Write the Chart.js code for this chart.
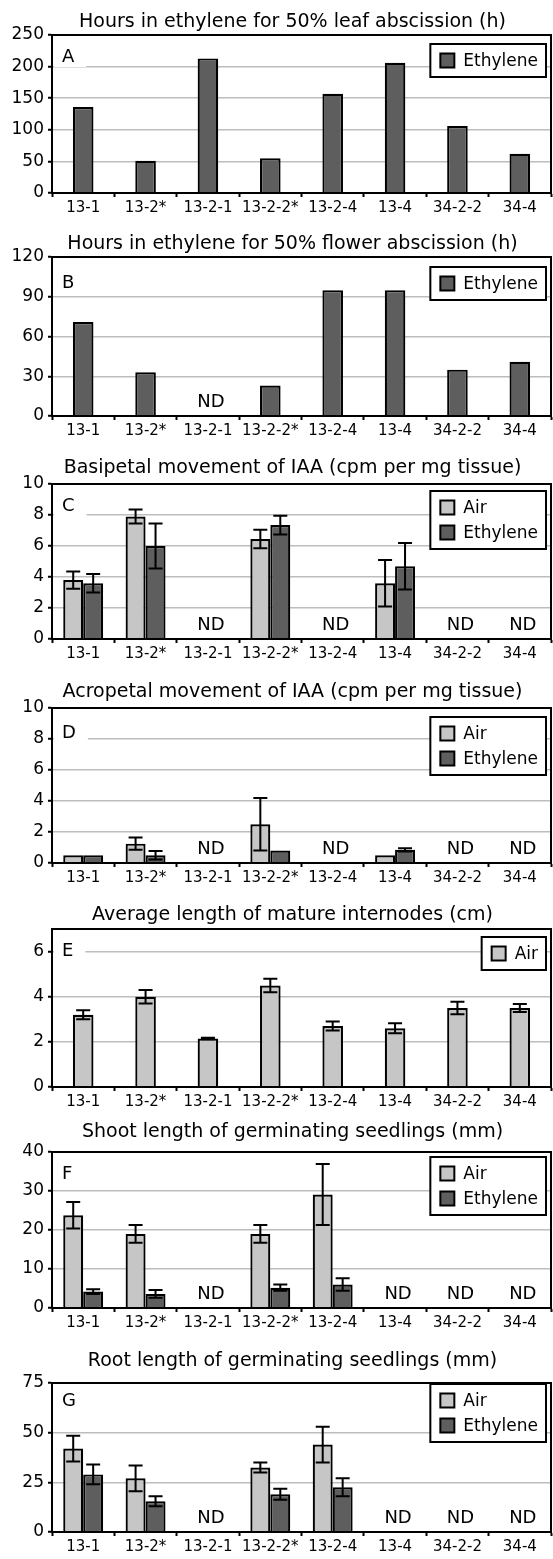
<!DOCTYPE html>
<html><head><meta charset="utf-8">
<script src="https://cdn.jsdelivr.net/npm/chart.js@4/dist/chart.umd.min.js"></script>
<style>
html,body{margin:0;padding:0;background:#fff;}
body{width:553px;height:1559px;position:relative;overflow:hidden;}
.panel{position:absolute;left:0;width:553px;}
</style></head><body>
<script>
// ---------- data ----------
const categories = ['13-1','13-2*','13-2-1','13-2-2*','13-2-4','13-4','34-2-2','34-4'];
const titles = [
  'Hours in ethylene for 50% leaf abscission (h)',
  'Hours in ethylene for 50% flower abscission (h)',
  'Basipetal movement of IAA (cpm per mg tissue)',
  'Acropetal movement of IAA (cpm per mg tissue)',
  'Average length of mature internodes (cm)',
  'Shoot length of germinating seedlings (mm)',
  'Root length of germinating seedlings (mm)'
];
const panelLetters = ['A','B','C','D','E','F','G'];
const seriesNames = ['Air','Ethylene'];
const ndLabel = 'ND';
const yMaxes = [250,120,10,10,7,40,75];
const ySteps = [50,30,2,2,2,10,25];

const leafEthylene   = [136,51,213,55,157,206,106,62];
const flowerEthylene = [71,33,null,23,95,95,35,41];

const basiAir    = [3.8,7.9,null,6.45,null,3.6,null,null];
const basiAirErr = [0.55,0.45,null,0.6,null,1.5,null,null];
const basiEth    = [3.6,6.0,null,7.35,null,4.7,null,null];
const basiEthErr = [0.6,1.45,null,0.6,null,1.5,null,null];

const acroAir    = [0.5,1.25,null,2.5,null,0.5,null,null];
const acroAirErr = [0,0.4,null,1.7,null,0,null,null];
const acroEth    = [0.5,0.5,null,0.8,null,0.85,null,null];
const acroEthErr = [0,0.28,null,0,null,0.1,null,null];

const interAir    = [3.2,4.0,2.15,4.5,2.7,2.6,3.5,3.5];
const interAirErr = [0.2,0.3,0.03,0.3,0.2,0.22,0.28,0.18];

const shootAir    = [23.8,19.0,null,19.0,29.1,null,null,null];
const shootAirErr = [3.4,2.3,null,2.3,7.8,null,null,null];
const shootEth    = [4.2,3.6,null,5.2,6.0,null,null,null];
const shootEthErr = [0.6,1.0,null,0.8,1.6,null,null,null];

const rootAir    = [42,27,null,32.5,44,null,null,null];
const rootAirErr = [6.5,6.5,null,2.5,9,null,null,null];
const rootEth    = [29,15.5,null,19,22.5,null,null,null];
const rootEthErr = [5,2.5,null,2.8,4.5,null,null,null];

// ---------- layout / style ----------
const FONT = '"DejaVu Sans", sans-serif';
const AIR = '#c6c6c6', ETH = '#5e5e5e';
const layout = [
  {plotTop:35,   plotBottom:193,  titleY:22,   letterDy:22, legendDy:9},
  {plotTop:257,  plotBottom:416,  titleY:244,  letterDy:26, legendDy:10},
  {plotTop:484,  plotBottom:639,  titleY:468,  letterDy:22, legendDy:7},
  {plotTop:708,  plotBottom:863,  titleY:692,  letterDy:25, legendDy:9},
  {plotTop:929,  plotBottom:1087, titleY:915,  letterDy:22, legendDy:8},
  {plotTop:1152, plotBottom:1308, titleY:1132, letterDy:22, legendDy:5},
  {plotTop:1383, plotBottom:1532, titleY:1361, letterDy:18, legendDy:1}
];
const TOPPAD = 40, XH = 27;

Chart.defaults.font.family = FONT;

const decoPlugin = {
  id: 'deco',
  afterDatasetsDraw(chart) {
    const ctx = chart.ctx, y = chart.scales.y;
    ctx.save();
    ctx.strokeStyle = '#000'; ctx.lineWidth = 2;
    chart.data.datasets.forEach((ds, di) => {
      const errs = ds.errors; if (!errs) return;
      const meta = chart.getDatasetMeta(di);
      meta.data.forEach((bar, i) => {
        const v = ds.data[i], e = errs[i];
        if (v == null || !e) return;
        const x = bar.x, yt = y.getPixelForValue(v + e), yb = y.getPixelForValue(Math.max(v - e, 0));
        ctx.beginPath();
        ctx.moveTo(x, yt); ctx.lineTo(x, yb);
        ctx.moveTo(x - 7, yt); ctx.lineTo(x + 7, yt);
        ctx.moveTo(x - 7, yb); ctx.lineTo(x + 7, yb);
        ctx.stroke();
      });
    });
    ctx.restore();
  },
  afterDraw(chart, args, o) {
    const ctx = chart.ctx, ca = chart.chartArea, xs = chart.scales.x;
    ctx.save();
    // frame
    ctx.strokeStyle = '#000'; ctx.lineWidth = 2;
    ctx.strokeRect(ca.left, ca.top, ca.right - ca.left, ca.bottom - ca.top);
    // title
    ctx.fillStyle = '#000';
    ctx.font = '19px ' + FONT; ctx.textAlign = 'center'; ctx.textBaseline = 'middle';
    ctx.fillText(o.title, (ca.left + ca.right) / 2 - 9, o.titleY);
    // panel letter
    ctx.font = '18px ' + FONT; ctx.textAlign = 'left';
    const lw = ctx.measureText(o.letter).width;
    ctx.fillStyle = '#fff'; ctx.fillRect(ca.left + 2, ca.top + o.letterDy - 10, lw + 20, 20);
    ctx.fillStyle = '#000'; ctx.fillText(o.letter, ca.left + 10, ca.top + o.letterDy);
    // ND markers
    ctx.font = '18px ' + FONT; ctx.textAlign = 'center'; ctx.textBaseline = 'alphabetic';
    chart.data.labels.forEach((lab, i) => {
      if (chart.data.datasets.every(ds => ds.data[i] == null))
        ctx.fillText(ndLabel, xs.getPixelForValue(i) + 3, ca.bottom - 9);
    });
    // legend
    const items = chart.data.datasets.map(ds => ({label: ds.label, color: ds.backgroundColor}));
    ctx.font = '17px ' + FONT;
    const tw = Math.max(...items.map(it => ctx.measureText(it.label).width));
    const bw = 10 + 14 + 9 + tw + 8, bh = 8 + items.length * 25;
    const bx = ca.right - 5 - bw, by = ca.top + o.legendDy;
    ctx.fillStyle = '#fff'; ctx.fillRect(bx, by, bw, bh);
    ctx.strokeStyle = '#000'; ctx.lineWidth = 2; ctx.strokeRect(bx, by, bw, bh);
    items.forEach((it, r) => {
      const cy = by + 4 + 12.5 + r * 25;
      ctx.fillStyle = it.color; ctx.fillRect(bx + 10, cy - 7, 14, 14);
      ctx.lineWidth = 2; ctx.strokeRect(bx + 10, cy - 7, 14, 14);
      ctx.fillStyle = '#000'; ctx.textAlign = 'left'; ctx.textBaseline = 'middle';
      ctx.fillText(it.label, bx + 33, cy + 1);
    });
    ctx.restore();
  }
};

function ds(label, data, errors) {
  return {label, data, errors, backgroundColor: label === 'Air' ? AIR : ETH,
    borderColor: '#000', borderWidth: 2.2, borderSkipped: 'start',
    barPercentage: 1.0};
}

const panels = [
  [ds(seriesNames[1], leafEthylene, null)],
  [ds(seriesNames[1], flowerEthylene, null)],
  [ds(seriesNames[0], basiAir, basiAirErr), ds(seriesNames[1], basiEth, basiEthErr)],
  [ds(seriesNames[0], acroAir, acroAirErr), ds(seriesNames[1], acroEth, acroEthErr)],
  [ds(seriesNames[0], interAir, interAirErr)],
  [ds(seriesNames[0], shootAir, shootAirErr), ds(seriesNames[1], shootEth, shootEthErr)],
  [ds(seriesNames[0], rootAir, rootAirErr), ds(seriesNames[1], rootEth, rootEthErr)]
];

panels.forEach((datasets, p) => {
  const L = layout[p];
  const top = L.plotTop - TOPPAD;
  const h = L.plotBottom - top + XH;
  const div = document.createElement('div');
  div.className = 'panel';
  div.style.top = top + 'px'; div.style.height = h + 'px';
  const cv = document.createElement('canvas');
  div.appendChild(cv); document.body.appendChild(div);
  const catPct = datasets.length === 1 ? 0.33 : 0.64;
  datasets.forEach(d => d.categoryPercentage = catPct);
  const step = ySteps[p];
  new Chart(cv, {
    type: 'bar',
    data: {labels: categories, datasets},
    plugins: [decoPlugin],
    options: {
      responsive: true, maintainAspectRatio: false, animation: false,
      layout: {padding: {top: TOPPAD, right: 2, left: 0, bottom: 0}},
      plugins: {
        legend: {display: false}, tooltip: {enabled: false}, title: {display: false},
        deco: {title: titles[p], letter: panelLetters[p], titleY: L.titleY - top,
               letterDy: L.letterDy, legendDy: L.legendDy}
      },
      scales: {
        x: {
          grid: {offset: true, drawOnChartArea: false, drawTicks: true, tickLength: 4, tickColor: '#000', tickWidth: 2},
          border: {color: '#000', width: 2},
          ticks: {font: {size: 15}, color: '#000', padding: 2, maxRotation: 0, autoSkip: false},
          afterFit: s => { s.height = XH; }
        },
        y: {
          min: 0, max: yMaxes[p],
          ticks: {stepSize: step, font: {size: 17}, color: '#000', padding: 4},
          grid: {color: '#bdbdbd', lineWidth: 1.5, tickColor: '#000', tickLength: 4, tickWidth: 2},
          border: {color: '#000', width: 2},
          afterBuildTicks: s => { s.ticks = s.ticks.filter(t => Math.abs(t.value / step - Math.round(t.value / step)) < 1e-6); },
          afterFit: s => { s.width = 52; }
        }
      }
    }
  });
});
</script>
</body></html>
